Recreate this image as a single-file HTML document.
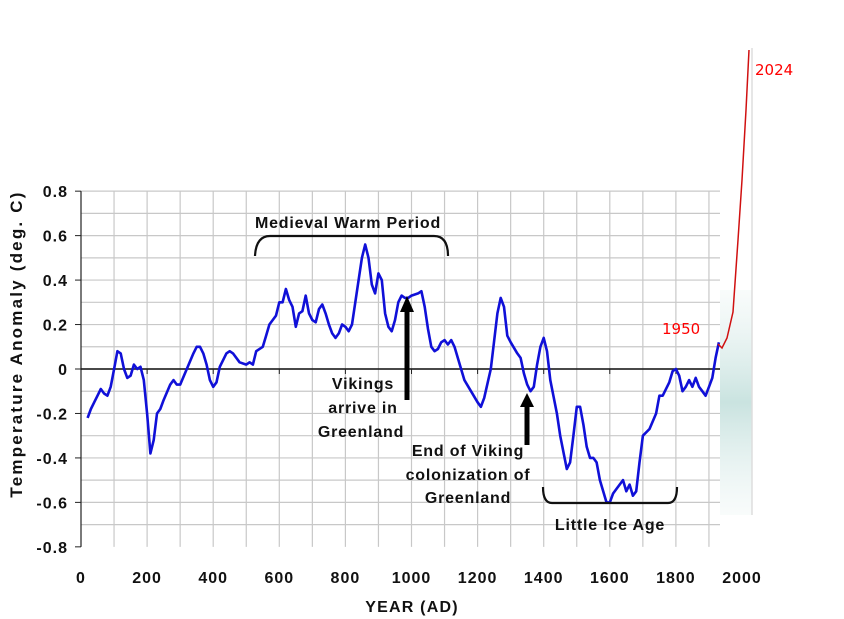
<!DOCTYPE html>
<html><head><meta charset="utf-8"><style>
html,body{margin:0;padding:0;background:#fff;width:844px;height:619px;overflow:hidden}
svg text{font-family:"Liberation Sans",Arial,sans-serif;font-weight:bold;fill:#111}
.ann{font-size:16px;letter-spacing:0.8px}
.tick{font-size:16px;letter-spacing:1px}
</style></head><body>
<svg id="chart" width="844" height="619" viewBox="0 0 844 619" xmlns="http://www.w3.org/2000/svg">
<defs>
<linearGradient id="band" x1="0" y1="0" x2="0" y2="1">
<stop offset="0" stop-color="#dfeeec" stop-opacity="0.2"/>
<stop offset="0.5" stop-color="#bcdcd8" stop-opacity="0.8"/>
<stop offset="1" stop-color="#dfeeec" stop-opacity="0.2"/>
</linearGradient>
</defs>
<g id="grid"></g>
<g id="axes"></g>
<rect x="720" y="290" width="32" height="225" fill="url(#band)"/>
<line x1="752" y1="48" x2="752" y2="515" stroke="#ddd" stroke-width="1.5"/>
<path id="series" fill="none" stroke="#1010d8" stroke-width="2.6" stroke-linejoin="round"/>
<path d="M718,344 L722,348 L727,338 L733,312 L738,240 L742,180 L746,110 L749,50" fill="none" stroke="#d01010" stroke-width="1.5"/>
<text x="662" y="334" style="font-family:'DejaVu Sans',sans-serif;font-weight:normal;font-size:15px;fill:#f00">1950</text>
<text x="755" y="75" style="font-family:'DejaVu Sans',sans-serif;font-weight:normal;font-size:15px;fill:#f00">2024</text>
<g>
<text class="ann" x="348" y="228" text-anchor="middle">Medieval Warm Period</text>
<path d="M255,256 Q256,236 270,236 L434,236 Q448,236 448,256" fill="none" stroke="#111" stroke-width="2.2"/>
</g>
<g>
<text class="ann" x="363" y="389" text-anchor="middle">Vikings</text>
<text class="ann" x="363" y="413" text-anchor="middle">arrive in</text>
<text class="ann" x="361" y="437" text-anchor="middle">Greenland</text>
<line x1="407" y1="400" x2="407" y2="310" stroke="#000" stroke-width="5"/>
<polygon points="400,312 407,296 414,312" fill="#000"/>
</g>
<g>
<text class="ann" x="468" y="456" text-anchor="middle">End of Viking</text>
<text class="ann" x="468" y="480" text-anchor="middle">colonization of</text>
<text class="ann" x="468" y="503" text-anchor="middle">Greenland</text>
<line x1="527" y1="445" x2="527" y2="405" stroke="#000" stroke-width="5"/>
<polygon points="520,407 527,393 534,407" fill="#000"/>
</g>
<g>
<path d="M543,487 Q543,503 552,503 L668,503 Q677,503 677,487" fill="none" stroke="#111" stroke-width="2.2"/>
<text class="ann" x="610" y="530" text-anchor="middle">Little Ice Age</text>
</g>
<text x="412" y="612" text-anchor="middle" font-size="16" letter-spacing="1.2">YEAR (AD)</text>
<text transform="translate(22,344) rotate(-90)" text-anchor="middle" font-size="17" letter-spacing="2.2">Temperature Anomaly (deg. C)</text>
</svg>
<script>
const years=[20,30,40,50,60,70,80,90,100,110,120,130,140,150,160,170,180,190,200,210,220,230,240,250,270,280,290,300,320,340,350,360,370,380,390,400,410,420,440,450,460,480,500,510,520,530,550,560,570,590,600,610,620,630,640,650,660,670,680,690,700,710,720,730,740,750,760,770,780,790,800,810,820,830,840,850,860,870,880,890,900,910,920,930,940,950,960,970,980,990,1000,1020,1030,1040,1050,1060,1070,1080,1090,1100,1110,1120,1130,1150,1160,1180,1200,1210,1220,1240,1260,1270,1280,1290,1300,1320,1330,1340,1350,1360,1370,1380,1390,1400,1410,1420,1440,1450,1470,1480,1490,1500,1510,1520,1530,1540,1550,1560,1570,1590,1600,1610,1620,1640,1650,1660,1670,1680,1690,1700,1720,1740,1750,1760,1780,1790,1800,1810,1820,1830,1840,1850,1860,1870,1880,1890,1900,1910,1920,1930];
const anomalies=[-0.22,-0.18,-0.15,-0.12,-0.09,-0.11,-0.12,-0.08,0.0,0.08,0.07,0.0,-0.04,-0.03,0.02,0.0,0.01,-0.05,-0.2,-0.38,-0.32,-0.2,-0.18,-0.14,-0.07,-0.05,-0.07,-0.07,0.0,0.07,0.1,0.1,0.07,0.02,-0.05,-0.08,-0.06,0.01,0.07,0.08,0.07,0.03,0.02,0.03,0.02,0.08,0.1,0.15,0.2,0.24,0.3,0.3,0.36,0.31,0.28,0.19,0.25,0.26,0.33,0.25,0.22,0.21,0.27,0.29,0.25,0.2,0.16,0.14,0.16,0.2,0.19,0.17,0.2,0.3,0.4,0.5,0.56,0.5,0.38,0.34,0.43,0.4,0.25,0.19,0.17,0.22,0.3,0.33,0.32,0.32,0.33,0.34,0.35,0.28,0.18,0.1,0.08,0.09,0.12,0.13,0.11,0.13,0.1,0.0,-0.05,-0.1,-0.15,-0.17,-0.13,0.0,0.25,0.32,0.28,0.15,0.12,0.07,0.05,-0.02,-0.07,-0.1,-0.08,0.02,0.1,0.14,0.08,-0.05,-0.2,-0.3,-0.45,-0.42,-0.3,-0.17,-0.17,-0.25,-0.35,-0.4,-0.4,-0.42,-0.5,-0.6,-0.6,-0.56,-0.54,-0.5,-0.55,-0.52,-0.57,-0.55,-0.42,-0.3,-0.27,-0.2,-0.12,-0.12,-0.06,-0.01,0.0,-0.03,-0.1,-0.08,-0.05,-0.08,-0.04,-0.08,-0.1,-0.12,-0.08,-0.04,0.05,0.12];
const xTicks=[0,200,400,600,800,1000,1200,1400,1600,1800,2000];
const yTicks=[0.8,0.6,0.4,0.2,0,-0.2,-0.4,-0.6,-0.8];
const yTickLabels=["0.8","0.6","0.4","0.2","0","-0.2","-0.4","-0.6","-0.8"];

const X=y=>81+y*0.3305;
const Y=v=>369-v*222.3;
const NS="http://www.w3.org/2000/svg";
const grid=document.getElementById('grid'), axes=document.getElementById('axes');
function mk(tag,attrs,parent){const e=document.createElementNS(NS,tag);for(const k in attrs)e.setAttribute(k,attrs[k]);parent.appendChild(e);return e;}
for(let yr=100;yr<=1900;yr+=100){
  const l=mk('line',{x1:X(yr),x2:X(yr),y1:Y(0.8),y2:Y(-0.8),stroke:'#c8c8c8','stroke-width':1.2},grid);
  
  
}
for(let v=-7;v<=8;v++){
  const l=mk('line',{x1:X(0),x2:720,y1:Y(v/10),y2:Y(v/10),stroke:'#c8c8c8','stroke-width':1.2},grid);
  
  
}
const ya=mk('line',{x1:X(0),x2:X(0),y1:Y(0.8),y2:Y(-0.8),stroke:'#222','stroke-width':1.2},axes);


const zl=mk('line',{x1:X(0),x2:720,y1:Y(0),y2:Y(0),stroke:'#111','stroke-width':1.4},axes);


yTicks.forEach((v,i)=>{
  mk('line',{x1:X(0)-6,x2:X(0),y1:Y(v),y2:Y(v),stroke:'#222'},axes);
  const t=mk('text',{x:68,y:Y(v)+6,'text-anchor':'end','class':'tick'},axes);
  t.textContent=yTickLabels[i];
  
  
});
xTicks.forEach(v=>{
  if(v>0&&v<2000) mk('line',{x1:X(v),x2:X(v),y1:Y(0),y2:Y(0)+5,stroke:'#222'},axes);
  const t=mk('text',{x:X(v),y:583,'text-anchor':'middle','class':'tick'},axes);
  t.textContent=String(v);
  
  
});
let d='';
years.forEach((yr,i)=>{d+=(i?'L':'M')+X(yr).toFixed(1)+','+Y(anomalies[i]).toFixed(1);});
document.getElementById('series').setAttribute('d',d);
</script>
</body></html>
